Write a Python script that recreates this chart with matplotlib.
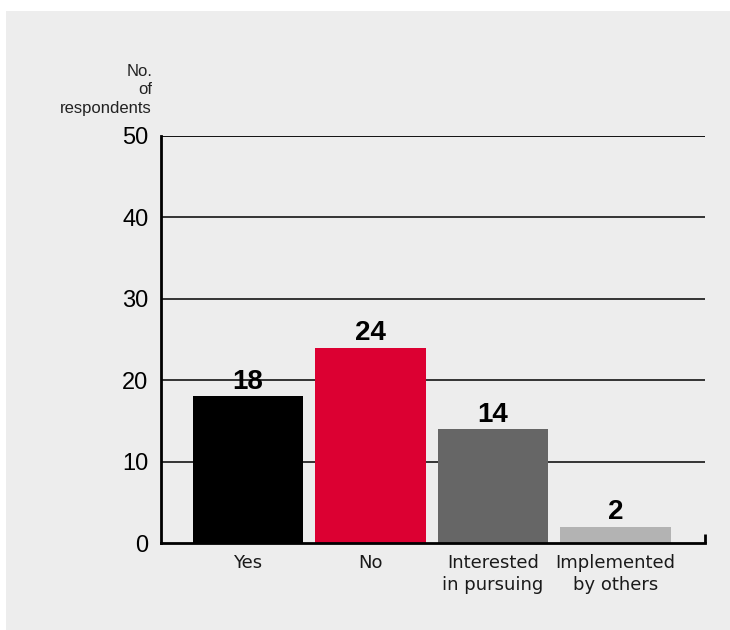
import numpy as np
import matplotlib.pyplot as plt
from matplotlib.patches import Rectangle

# survey answers
categories = ['Yes', 'No', 'Interested\nin pursuing', 'Implemented\nby others']
counts = [18, 24, 14, 2]
bar_colors = ['#000000', '#dc0032', '#666666', '#b3b3b3']
yticks = [0, 10, 20, 30, 40, 50]

plt.rcParams['font.family'] = ['Liberation Sans', 'DejaVu Sans']

fig = plt.figure(figsize=(7.3, 6.3), dpi=100)
fig.patch.set_facecolor('white')
# grey panel behind the chart
fig.patches.append(Rectangle((6 / 730, 0), 1, 1 - 11 / 630, transform=fig.transFigure,
                             facecolor='#ededed', edgecolor='none', zorder=-10))

ax = fig.add_axes([161 / 730, 1 - 543 / 630, (705 - 161) / 730, (543 - 136) / 630])
ax.set_facecolor('none')

x = np.arange(len(categories))
bars = ax.bar(x, counts, width=0.9, color=bar_colors, zorder=3)

ax.set_xlim(-0.71, 3.73)
ax.set_ylim(0, 50)
ax.set_yticks(yticks)
ax.set_yticklabels([str(t) for t in yticks], fontsize=17)
ax.tick_params(axis='y', length=0, pad=9)
ax.set_xticks(x)
ax.set_xticklabels(categories, fontsize=13, linespacing=1.25, color='#1a1a1a',
                   family=['DejaVu Sans'])
ax.tick_params(axis='x', length=0, pad=8)

for t in yticks[1:]:
    ax.axhline(t, color='#111111' if t == 50 else '#333333', lw=1.4, zorder=1)

for s in ['top', 'right']:
    ax.spines[s].set_visible(False)
ax.spines['left'].set_linewidth(2)
ax.spines['bottom'].set_linewidth(2)
ax.spines['left'].set_zorder(4)
ax.spines['bottom'].set_zorder(4)

# small upturn at the end of the baseline
ax.plot([3.73, 3.73], [0, 1.1], color='black', lw=2, clip_on=False, zorder=4,
        solid_capstyle='butt')

for b, v in zip(bars, counts):
    ax.text(b.get_x() + b.get_width() / 2, v + 0.15, str(v), ha='center', va='bottom',
            fontsize=20, fontweight='bold', zorder=5)

fig.text(152 / 730, 1 - 90 / 630, 'No.\nof\nrespondents', ha='right', va='center',
         fontsize=12, linespacing=1.3, color='#222222')

fig.savefig('out.png', dpi=100)
